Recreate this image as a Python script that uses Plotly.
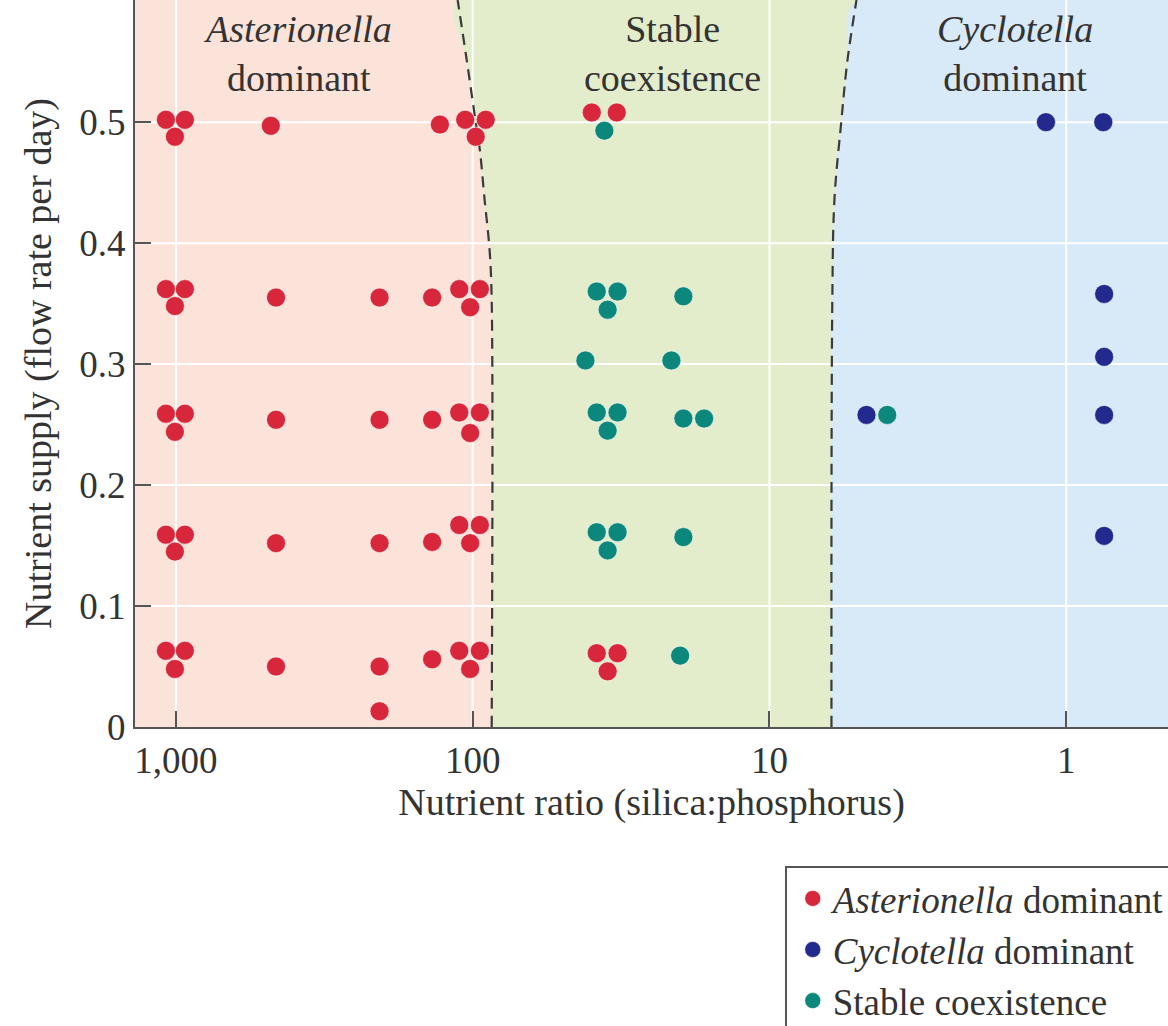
import plotly.graph_objects as go

# ---- Observations: nutrient ratio (Si:P) vs. flow rate, by competitive outcome ----
aster_ratio = [1081, 933, 1008, 479, 129, 106, 90.4, 97.7, 39.7, 32.7,
               1081, 933, 1008, 460, 206, 137, 111, 94.6, 102,
               1081, 933, 1008, 460, 206, 137, 111, 94.6, 102,
               1081, 933, 1008, 460, 206, 137, 111, 94.6, 102,
               1081, 933, 1008, 460, 206, 137, 111, 94.6, 102, 38.2, 32.5, 35.1,
               206]
aster_flow = [0.502, 0.502, 0.488, 0.497, 0.498, 0.502, 0.502, 0.488, 0.508, 0.508,
              0.362, 0.362, 0.348, 0.355, 0.355, 0.355, 0.362, 0.362, 0.347,
              0.259, 0.259, 0.244, 0.254, 0.254, 0.254, 0.260, 0.260, 0.243,
              0.159, 0.159, 0.145, 0.152, 0.152, 0.153, 0.167, 0.167, 0.152,
              0.063, 0.063, 0.048, 0.050, 0.050, 0.056, 0.063, 0.063, 0.048, 0.061, 0.061, 0.046,
              0.013]

cyclo_ratio = [1.17, 0.75, 0.745, 0.745, 4.71, 0.745, 0.745]
cyclo_flow = [0.500, 0.500, 0.358, 0.306, 0.258, 0.258, 0.158]

coex_ratio = [36.0,
              38.2, 32.5, 35.1, 19.5,
              41.7, 21.4,
              38.2, 32.5, 35.1, 19.5, 16.6, 4.01,
              38.2, 32.5, 35.1, 19.5,
              20.0]
coex_flow = [0.493,
             0.360, 0.360, 0.345, 0.356,
             0.303, 0.303,
             0.260, 0.260, 0.245, 0.255, 0.255, 0.258,
             0.161, 0.161, 0.146, 0.157,
             0.059]

# ---- Region boundaries (bottom to top) ----
left_bound_ratio = [86.3, 86.3, 87.7, 91.2, 94.6, 97.7, 104.7, 112.4]
left_bound_flow = [0.0, 0.353, 0.394, 0.436, 0.477, 0.500, 0.551, 0.601]
right_bound_ratio = [6.18, 6.14, 6.04, 5.73, 5.46, 5.09]
right_bound_flow = [0.0, 0.353, 0.436, 0.500, 0.551, 0.601]

# ---- Axes ----
x_tick_vals = [1000, 100, 10, 1]
x_tick_text = ["1,000", "100", "10", "1"]
y_tick_vals = [0, 0.1, 0.2, 0.3, 0.4, 0.5]
y_tick_text = ["0", "0.1", "0.2", "0.3", "0.4", "0.5"]
x_log_range = [3.138, -0.343]
y_range = [0, 0.601]
x_far_left, x_far_right = 2000, 0.3

FONT = "Liberation Serif"
TEXT = "#333333"
AXIS = "#555555"
PINK, GREEN, BLUE = "#fbe3da", "#e3edcb", "#d8e9f8"
RED, NAVY, TEAL = "#d8263b", "#232a8e", "#0b877b"

fig = go.Figure()

# shaded outcome regions
top = y_range[1]
fig.add_trace(go.Scatter(
    x=[x_far_left, x_far_left] + left_bound_ratio[::-1],
    y=[0, top] + left_bound_flow[::-1],
    fill="toself", fillcolor=PINK, mode="lines", line=dict(width=0, shape="spline"),
    showlegend=False, hoverinfo="skip"))
fig.add_trace(go.Scatter(
    x=left_bound_ratio + right_bound_ratio[::-1],
    y=left_bound_flow + right_bound_flow[::-1],
    fill="toself", fillcolor=GREEN, mode="lines", line=dict(width=0, shape="spline"),
    showlegend=False, hoverinfo="skip"))
fig.add_trace(go.Scatter(
    x=right_bound_ratio + [x_far_right, x_far_right],
    y=right_bound_flow + [top, 0],
    fill="toself", fillcolor=BLUE, mode="lines", line=dict(width=0, shape="spline"),
    showlegend=False, hoverinfo="skip"))

# white grid drawn over the shading
gx, gy = [], []
for v in x_tick_vals:
    gx += [v, v, None]
    gy += [0, top, None]
for v in y_tick_vals[1:]:
    gx += [x_far_left, x_far_right, None]
    gy += [v, v, None]
fig.add_trace(go.Scatter(x=gx, y=gy, mode="lines", line=dict(color="white", width=2),
                         showlegend=False, hoverinfo="skip"))

# dashed region boundaries
for bx, by in [(left_bound_ratio, left_bound_flow), (right_bound_ratio, right_bound_flow)]:
    fig.add_trace(go.Scatter(x=bx, y=by, mode="lines",
                             line=dict(color="#3a3a3a", width=2.2, dash="11px,7px",
                                       shape="spline", smoothing=1.0),
                             showlegend=False, hoverinfo="skip"))

marker_line = dict(color="rgba(255,255,255,0.55)", width=1)
fig.add_trace(go.Scatter(x=aster_ratio, y=aster_flow, mode="markers",
                         name="<i>Asterionella</i> dominant",
                         marker=dict(color=RED, size=19, line=marker_line)))
fig.add_trace(go.Scatter(x=cyclo_ratio, y=cyclo_flow, mode="markers",
                         name="<i>Cyclotella</i> dominant",
                         marker=dict(color=NAVY, size=19, line=marker_line)))
fig.add_trace(go.Scatter(x=coex_ratio, y=coex_flow, mode="markers",
                         name="Stable coexistence",
                         marker=dict(color=TEAL, size=19, line=marker_line)))

# region labels
for xp, txt in [(0.157, "<i>Asterionella</i><br>dominant"),
                (0.520, "Stable<br>coexistence"),
                (0.852, "<i>Cyclotella</i><br>dominant")]:
    fig.add_annotation(x=xp, y=0.927, xref="paper", yref="paper", text=txt,
                       showarrow=False, xanchor="center", yanchor="middle",
                       font=dict(family=FONT, size=38, color=TEXT))

fig.update_xaxes(type="log", range=x_log_range, tickvals=x_tick_vals, ticktext=x_tick_text,
                 showgrid=False, zeroline=False, showline=True, linecolor=AXIS, linewidth=2,
                 ticks="inside", ticklen=16, tickwidth=2, tickcolor=AXIS,
                 tickfont=dict(family=FONT, size=37, color=TEXT),
                 title=dict(text="Nutrient ratio (silica:phosphorus)", standoff=6,
                            font=dict(family=FONT, size=38, color=TEXT)))
fig.update_yaxes(range=y_range, tickvals=y_tick_vals, ticktext=y_tick_text,
                 showgrid=False, zeroline=False, showline=True, linecolor=AXIS, linewidth=2,
                 ticks="inside", ticklen=16, tickwidth=2, tickcolor=AXIS,
                 tickfont=dict(family=FONT, size=37, color=TEXT),
                 title=dict(text="Nutrient supply (flow rate per day)", standoff=16,
                            font=dict(family=FONT, size=38, color=TEXT)))

fig.update_layout(
    width=1168, height=1026,
    margin=dict(l=135, r=0, t=0, b=299, autoexpand=False),
    paper_bgcolor="white", plot_bgcolor=PINK,
    showlegend=True,
    legend=dict(x=0.629, y=-0.191, xanchor="left", yanchor="top",
                bgcolor="white", bordercolor=AXIS, borderwidth=2,
                font=dict(family=FONT, size=37, color=TEXT),
                tracegroupgap=0, itemsizing="trace", indentation=6),
)

fig.write_html("out.html")
